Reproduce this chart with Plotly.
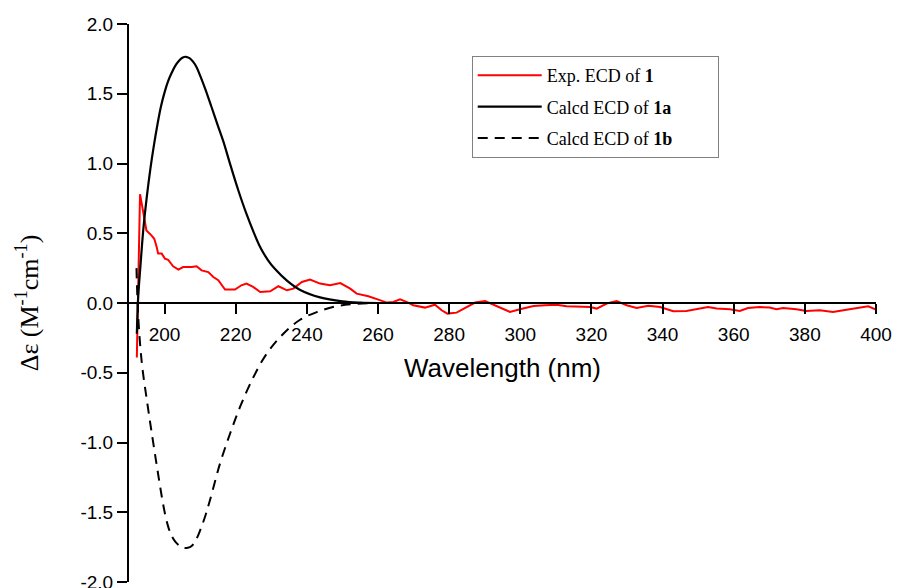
import plotly.graph_objects as go

# ---------------- data ----------------
exp_wl = [192.2, 192.6, 193.1, 193.8, 194.5, 194.9, 196.3, 197.1, 197.8, 198.2, 199.2, 200.1, 201.0,
          202.4, 203.9, 205.2, 207.6, 209.0, 210.4, 212.3, 213.7, 215.1, 217.0, 219.8, 221.6, 223.0,
          224.9, 226.9, 229.7, 232.0, 234.4, 236.2, 238.6, 240.9, 243.7, 246.5, 249.4, 252.2, 254.0,
          257.3, 260.1, 262.5, 264.3, 266.2, 268.5, 269.9, 273.2, 276.0, 277.9, 279.5, 282.1, 284.9,
          287.3, 290.1, 292.4, 294.8, 297.1, 299.9, 303.7, 307.0, 310.2, 313.0, 316.8, 319.6, 321.5,
          324.3, 327.1, 329.9, 332.7, 336.0, 339.3, 343.0, 346.7, 350.5, 352.8, 355.2, 358.9, 361.7,
          364.0, 367.3, 370.1, 372.0, 373.9, 377.6, 380.4, 384.2, 387.9, 391.7, 395.4, 397.8, 400.0]
exp_de = [-0.39, 0.20, 0.78, 0.68, 0.59, 0.52, 0.485, 0.46, 0.40, 0.354, 0.354, 0.318, 0.31,
          0.263, 0.24, 0.258, 0.258, 0.263, 0.234, 0.222, 0.186, 0.163, 0.096, 0.096, 0.127, 0.139,
          0.115, 0.079, 0.084, 0.12, 0.091, 0.103, 0.151, 0.168, 0.139, 0.127, 0.143, 0.103, 0.067,
          0.048, 0.024, 0.003, 0.007, 0.027, 0.003, -0.016, -0.033, -0.012, -0.052, -0.076, -0.069, -0.029,
          0.003, 0.014, -0.012, -0.04, -0.064, -0.045, -0.021, -0.016, -0.012, -0.024, -0.024, -0.029, -0.04,
          -0.004, 0.014, -0.016, -0.035, -0.019, -0.029, -0.059, -0.057, -0.04, -0.029, -0.04, -0.045, -0.057,
          -0.036, -0.029, -0.033, -0.045, -0.036, -0.045, -0.057, -0.052, -0.064, -0.048, -0.033, -0.024, -0.048]

calc_a_wl = [192.2, 192.6, 193.2, 194.0, 195.0, 196.0, 197.0, 198.0, 199.0, 200.0, 201.0, 202.0,
             203.0, 204.0, 205.0, 206.0, 207.0, 208.0, 209.0, 210.0, 211.5, 213.2, 215.0, 216.5,
             218.5, 220.7, 223.0, 225.0, 226.9, 229.0, 231.0, 234.4, 238.0, 243.7, 250.0, 255.0, 260.0]
calc_a_de = [-0.22, 0.05, 0.26, 0.52, 0.76, 0.96, 1.13, 1.28, 1.41, 1.51, 1.59, 1.65,
             1.70, 1.735, 1.758, 1.765, 1.755, 1.73, 1.69, 1.63, 1.53, 1.405, 1.27, 1.16,
             0.99, 0.81, 0.64, 0.51, 0.40, 0.31, 0.245, 0.16, 0.095, 0.04, 0.012, 0.003, 0.0]

calc_b_wl = [192.1, 192.6, 193.6, 195.1, 196.5, 197.9, 199.3, 200.2, 201.1, 202.0, 203.0, 204.2,
             205.3, 206.5, 207.7, 208.8, 210.0, 211.4, 212.8, 215.6, 218.5, 221.3, 225.0, 228.8,
             233.4, 238.1, 242.8, 248.0, 253.0, 260.0]
calc_b_de = [0.25, -0.10, -0.43, -0.71, -0.95, -1.18, -1.40, -1.52, -1.61, -1.67, -1.71, -1.74,
             -1.755, -1.755, -1.74, -1.70, -1.63, -1.53, -1.41, -1.15, -0.93, -0.74, -0.53, -0.36,
             -0.22, -0.12, -0.065, -0.025, -0.008, 0.0]

names = ["Exp. ECD of <b>1</b>", "Calcd ECD of <b>1a</b>", "Calcd ECD of <b>1b</b>"]
y_ticks = [-2.0, -1.5, -1.0, -0.5, 0.0, 0.5, 1.0, 1.5, 2.0]
x_ticks = [200, 220, 240, 260, 280, 300, 320, 340, 360, 380, 400]

# ---------------- figure ----------------
fig = go.Figure()
fig.add_trace(go.Scatter(x=exp_wl, y=exp_de, mode="lines", name=names[0], legendgroup="g1",
                         line=dict(color="#ff0000", width=2)))
fig.add_trace(go.Scatter(x=calc_a_wl, y=calc_a_de, mode="lines", name=names[1], legendgroup="g2",
                         line=dict(color="black", width=2.2, shape="spline", smoothing=1.0)))
fig.add_trace(go.Scatter(x=calc_b_wl, y=calc_b_de, mode="lines", name=names[2] + "\u00a0" * 9,
                         legendgroup="g3",
                         line=dict(color="black", width=2, dash="10px,7px", shape="spline", smoothing=1.0)))

sans = "Liberation Sans, Arial, Helvetica, sans-serif"
serif = "Liberation Serif, Times New Roman, serif"

fig.update_layout(
    width=897, height=588,
    margin=dict(l=129, r=21, t=24, b=6),
    paper_bgcolor="white", plot_bgcolor="white",
    showlegend=True,
    legend=dict(x=0.4588, y=0.9427, xanchor="left", yanchor="top",
                bgcolor="white", bordercolor="#808080", borderwidth=1,
                font=dict(family=serif, size=18, color="black"),
                itemwidth=64, tracegroupgap=5, traceorder="grouped"),
    xaxis=dict(range=[190, 400], tickvals=x_ticks, ticktext=[str(v) for v in x_ticks],
               anchor="free", position=0.5,
               showline=True, linecolor="black", linewidth=2,
               ticks="outside", ticklen=10, tickwidth=2, tickcolor="black",
               showgrid=False, zeroline=False,
               tickfont=dict(family=sans, size=19, color="black"),
               ticklabelstandoff=4, ticklabeloverflow="allow",
               title=dict(text="Wavelength (nm)", font=dict(family=sans, size=26, color="black"),
                          standoff=14),
               automargin=False),
    yaxis=dict(range=[-2, 2], tickvals=y_ticks, ticktext=["%.1f" % v for v in y_ticks],
               domain=[0, 1],
               showline=True, linecolor="black", linewidth=2,
               ticks="outside", ticklen=10, tickwidth=2, tickcolor="black",
               showgrid=False, zeroline=False,
               tickfont=dict(family=sans, size=19, color="black"),
               ticklabeloverflow="allow",
               title=dict(text="Δε (M<sup>-1</sup>cm<sup>-1</sup>)",
                          font=dict(family=serif, size=26, color="black"), standoff=34),
               automargin=False),
)

fig.write_html("out.html", config={"displayModeBar": False},
               post_script="document.body.style.margin='0';document.body.style.overflow='hidden';")
